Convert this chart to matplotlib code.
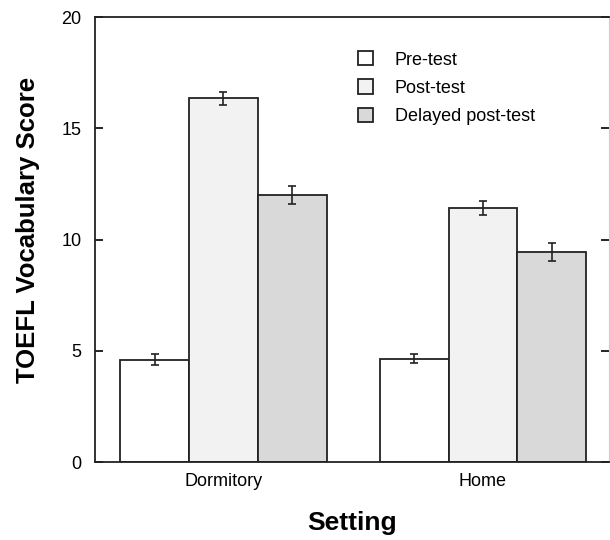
import matplotlib.pyplot as plt
import numpy as np
from matplotlib.patches import Patch

plt.rcParams['font.family'] = ['Liberation Sans', 'DejaVu Sans']

settings = ['Dormitory', 'Home']
series = ['Pre-test', 'Post-test', 'Delayed post-test']
means = {
    'Pre-test': [4.6, 4.65],
    'Post-test': [16.35, 11.42],
    'Delayed post-test': [12.0, 9.43],
}
errors = {
    'Pre-test': [0.25, 0.22],
    'Post-test': [0.3, 0.3],
    'Delayed post-test': [0.42, 0.4],
}
colors = ['#ffffff', '#f2f2f2', '#d9d9d9']

fig = plt.figure(figsize=(6.1, 5.4), dpi=100)
ax = fig.add_axes([0.156, 0.1444, 0.842, 0.8241])

x = np.arange(len(settings))
width = 0.265
handles = []
for i, name in enumerate(series):
    pos = x + (i - 1) * width
    ax.bar(pos, means[name], width, color=colors[i], edgecolor='#222222',
           linewidth=1.3, zorder=2)
    ax.errorbar(pos, means[name], yerr=errors[name], fmt='none',
                ecolor='#222222', elinewidth=1.2, capsize=3, capthick=1.2,
                zorder=3)
    handles.append(Patch(facecolor=colors[i], edgecolor='#222222',
                         linewidth=1.3, label=name))

ax.set_xlim(-0.494, 1.485)
ax.set_ylim(0, 20)
ax.set_yticks([0, 5, 10, 15, 20])
ax.set_xticks(x)
ax.set_xticklabels(settings, fontsize=13)
ax.tick_params(axis='x', length=0, pad=8)
ax.tick_params(axis='y', direction='in', length=6, width=1.2,
               right=True, labelsize=13, pad=10)
for sp in ['left', 'bottom', 'top']:
    ax.spines[sp].set_linewidth(1.3)
    ax.spines[sp].set_color('#222222')
ax.spines['right'].set_color('#cccccc')

ax.set_ylabel('TOEFL Vocabulary Score', fontsize=18.5, fontweight='bold')
ax.yaxis.set_label_coords(-0.107, 0.521)
ax.set_xlabel('Setting', fontsize=19, fontweight='bold', labelpad=15)

ax.legend(handles=handles, loc='upper left', bbox_to_anchor=(0.48, 0.96),
          frameon=False, fontsize=13, handlelength=0.85, handleheight=0.85,
          handletextpad=1.2, labelspacing=0.6)

fig.savefig('out.png', dpi=100)
